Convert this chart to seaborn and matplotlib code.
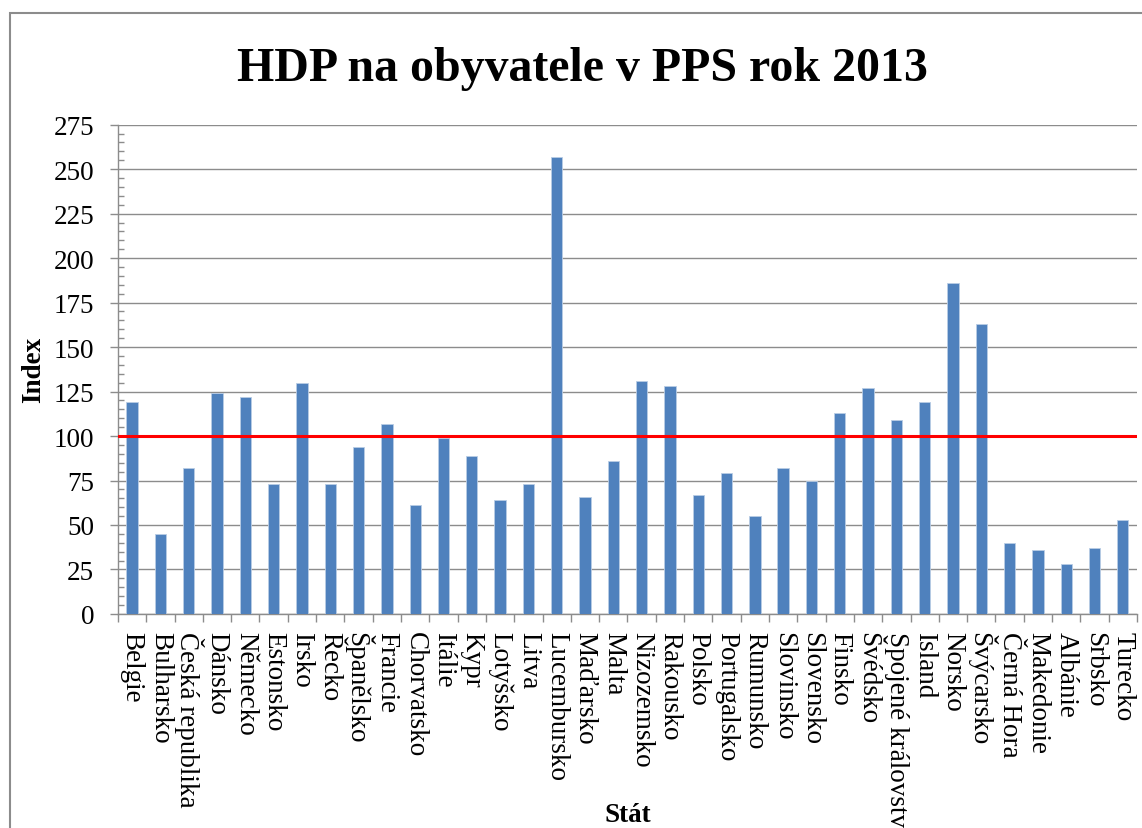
import matplotlib
matplotlib.use("Agg")
import matplotlib.pyplot as plt
from matplotlib.patches import Rectangle
from matplotlib.ticker import MultipleLocator, FixedLocator
import numpy as np
import pandas as pd
import seaborn as sns

# data
countries = ["Belgie", "Bulharsko", "Česká republika", "Dánsko", "Německo", "Estonsko",
             "Irsko", "Řecko", "Španělsko", "Francie", "Chorvatsko", "Itálie", "Kypr",
             "Lotyšsko", "Litva", "Lucembursko", "Maďarsko", "Malta", "Nizozemsko",
             "Rakousko", "Polsko", "Portugalsko", "Rumunsko", "Slovinsko", "Slovensko",
             "Finsko", "Švédsko", "Spojené království", "Island", "Norsko", "Švýcarsko",
             "Černá Hora", "Makedonie", "Albánie", "Srbsko", "Turecko"]
index_values = [119, 45, 82, 124, 122, 73, 130, 73, 94, 107, 61, 99, 89, 64, 73, 257,
                66, 86, 131, 128, 67, 79, 55, 82, 75, 113, 127, 109, 119, 186, 163,
                40, 36, 28, 37, 53]
eu_average = 100

df = pd.DataFrame({"Stát": countries, "Index": index_values})

sns.set_style("white")
plt.rcParams['font.family'] = ['Liberation Serif', 'DejaVu Serif']
plt.rcParams['text.color'] = 'black'
plt.rcParams['axes.labelcolor'] = 'black'
plt.rcParams['xtick.labelcolor'] = 'black'
plt.rcParams['ytick.labelcolor'] = 'black'

fig = plt.figure(figsize=(11.42, 8.29), dpi=100)
ax = fig.add_axes([0.1033, 0.2582, 0.8923, 0.5902])

sns.barplot(data=df, x="Stát", y="Index", color="#4F81BD", width=0.4,
            edgecolor="#b9cde5", linewidth=0.6, saturation=1, ax=ax, zorder=3)

ax.axhline(eu_average, color="red", lw=2.2, zorder=4)

ax.set_xlim(-0.5, len(countries) - 0.5)
ax.set_ylim(0, 275)
ax.yaxis.set_major_locator(MultipleLocator(25))
ax.yaxis.set_minor_locator(MultipleLocator(5))
ax.grid(axis="y", color="#8c8c8c", lw=1.0, zorder=0)
ax.set_axisbelow(True)

for s in ["top", "right"]:
    ax.spines[s].set_visible(False)
for s in ["left", "bottom"]:
    ax.spines[s].set_color("#8c8c8c")
    ax.spines[s].set_linewidth(1.0)

ax.tick_params(axis="y", which="major", direction="out", length=6, width=1,
               color="#8c8c8c", pad=11, labelsize=19.5, left=True)
ax.tick_params(axis="y", which="minor", direction="in", length=4, width=1,
               color="#8c8c8c", left=True)

ax.xaxis.set_minor_locator(FixedLocator(np.arange(-0.5, len(countries), 1)))
ax.tick_params(axis="x", which="minor", direction="out", length=6, width=1,
               color="#8c8c8c", bottom=True)
ax.tick_params(axis="x", which="major", length=0, pad=12, labelsize=19.5)
plt.setp(ax.get_xticklabels(), rotation=-90, ha="center", va="top")

ax.set_ylabel("Index", fontsize=19.5, fontweight="bold", va="center")
ax.yaxis.set_label_coords(-0.083, 0.5)
ax.set_xlabel("Stát", fontsize=19.5, fontweight="bold", va="center")
ax.xaxis.set_label_coords(0.5, -0.41)

fig.text(0.51, 0.917, "HDP na obyvatele v PPS rok 2013", ha="center", va="center",
         fontsize=34.5, fontweight="bold")

fig.add_artist(Rectangle((10 / 1142, -0.1), 1.2, 1.1 - 14 / 829, transform=fig.transFigure,
                         fill=False, edgecolor="#8c8c8c", lw=1.5, clip_on=False))

fig.savefig("out.png", dpi=100)
